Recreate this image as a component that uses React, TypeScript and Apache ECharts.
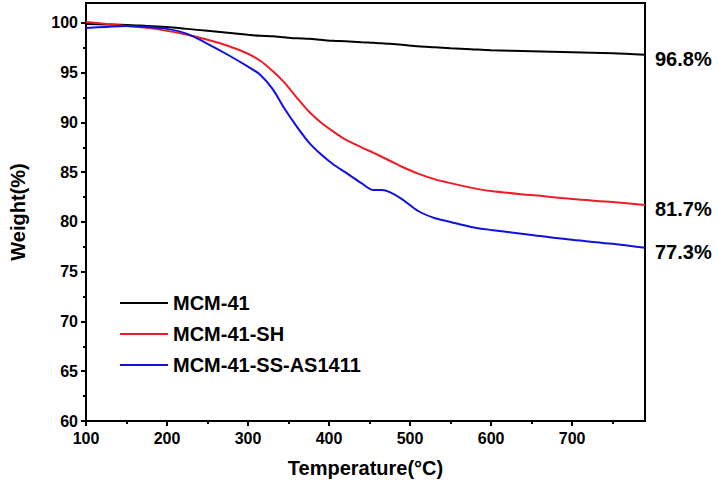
import React, { useEffect, useRef } from "react";
import * as echarts from "echarts";

const temps = [100, 125, 150, 175, 200, 225, 250, 275, 300, 315, 330, 345, 360, 375, 390, 405, 420, 440, 455, 465, 475, 490, 510, 530, 550, 575, 600, 650, 700, 750, 790];
const mcm41 = [99.9, 99.85, 99.8, 99.7, 99.6, 99.4, 99.2, 99.0, 98.8, 98.7, 98.65, 98.55, 98.45, 98.4, 98.3, 98.2, 98.15, 98.05, 98.0, 97.95, 97.9, 97.8, 97.65, 97.55, 97.45, 97.35, 97.25, 97.15, 97.05, 96.95, 96.8];
const mcm41SH = [100.1, 99.9, 99.7, 99.5, 99.2, 98.8, 98.3, 97.7, 96.9, 96.2, 95.2, 94.0, 92.5, 91.1, 90.0, 89.1, 88.3, 87.5, 86.95, 86.55, 86.15, 85.55, 84.85, 84.3, 83.9, 83.45, 83.1, 82.7, 82.3, 82.0, 81.7];
const mcm41SS = [99.5, 99.6, 99.7, 99.6, 99.4, 98.9, 97.9, 96.8, 95.6, 94.8, 93.4, 91.4, 89.6, 88.0, 86.8, 85.8, 85.0, 83.9, 83.2, 83.2, 83.0, 82.3, 81.1, 80.4, 80.0, 79.5, 79.2, 78.7, 78.2, 77.8, 77.4];
const seriesNames = ["MCM-41", "MCM-41-SH", "MCM-41-SS-AS1411"];
const seriesColors = ["#000000", "#ee1c25", "#1010e0"];
const endLabels = ["96.8%", "81.7%", "77.3%"];
const xMajorTicks = [100, 200, 300, 400, 500, 600, 700];
const xMinorTicks = [150, 250, 350, 450, 550, 650, 750];
const yMajorTicks = [60, 65, 70, 75, 80, 85, 90, 95, 100];
const yMinorTicks = [62.5, 67.5, 72.5, 77.5, 82.5, 87.5, 92.5, 97.5];

const FONT = "'Liberation Sans', Arial, sans-serif";

export default function App() {
  const ref = useRef<HTMLDivElement>(null);
  useEffect(() => {
    if (!ref.current) return;
    const chart = echarts.init(ref.current, null, { renderer: "svg" });
    const allSeries = [mcm41, mcm41SH, mcm41SS];
    const axisLine = { show: true, lineStyle: { color: "#000", width: 2 } };
    chart.setOption({
      animation: false,
      backgroundColor: "#fff",
      grid: { left: 84, right: 73, top: 3, bottom: 70, show: true, borderColor: "#000", borderWidth: 2, backgroundColor: "transparent" },
      legend: {
        orient: "vertical",
        left: 115,
        top: 288,
        icon: "rect",
        itemWidth: 48,
        itemHeight: 2,
        itemGap: 11,
        data: seriesNames,
        textStyle: { fontFamily: FONT, fontSize: 20, fontWeight: "bold", color: "#000", lineHeight: 18 },
      },
      xAxis: [
        {
          type: "value",
          min: 100,
          max: 790,
          interval: 100,
          name: "Temperature(°C)",
          nameLocation: "middle",
          nameGap: 37,
          nameTextStyle: { fontFamily: FONT, fontSize: 20, fontWeight: "bold", color: "#000" },
          axisLine,
          axisTick: { show: true, length: 5, lineStyle: { color: "#000", width: 2 }, customValues: xMajorTicks },
          axisLabel: { fontFamily: FONT, fontSize: 16, fontWeight: "bold", color: "#000", margin: 9, customValues: xMajorTicks },
          splitLine: { show: false },
        },
        {
          type: "value",
          position: "bottom",
          min: 100,
          max: 790,
          axisLine: { show: false },
          axisTick: { show: true, length: 3, lineStyle: { color: "#000", width: 2 }, customValues: xMinorTicks },
          axisLabel: { show: false },
          splitLine: { show: false },
        },
      ],
      yAxis: [
        {
          type: "value",
          min: 60,
          max: 102,
          interval: 5,
          name: "Weight(%)",
          nameLocation: "middle",
          nameGap: 58,
          nameTextStyle: { fontFamily: FONT, fontSize: 20, fontWeight: "bold", color: "#000" },
          axisLine,
          axisTick: { show: true, length: 5, lineStyle: { color: "#000", width: 2 }, customValues: yMajorTicks },
          axisLabel: { fontFamily: FONT, fontSize: 16, fontWeight: "bold", color: "#000", margin: 8, customValues: yMajorTicks },
          splitLine: { show: false },
        },
        {
          type: "value",
          position: "left",
          min: 60,
          max: 102,
          axisLine: { show: false },
          axisTick: { show: true, length: 3, lineStyle: { color: "#000", width: 2 }, customValues: yMinorTicks },
          axisLabel: { show: false },
          splitLine: { show: false },
        },
      ],
      series: seriesNames.map((name, i) => ({
        name,
        type: "line",
        xAxisIndex: 0,
        yAxisIndex: 0,
        data: temps.map((t, j) => [t, allSeries[i][j]]),
        smooth: 0.3,
        symbol: "none",
        color: seriesColors[i],
        lineStyle: { color: seriesColors[i], width: 2 },
        endLabel: {
          show: true,
          formatter: () => endLabels[i],
          distance: 10,
          offset: [0, 4],
          fontFamily: FONT,
          fontSize: 20,
          fontWeight: "bold",
          color: "#000",
        },
      })),
    });
    return () => chart.dispose();
  }, []);
  return <div ref={ref} style={{ position: "absolute", left: 0, top: 0, width: 718, height: 491 }} />;
}
